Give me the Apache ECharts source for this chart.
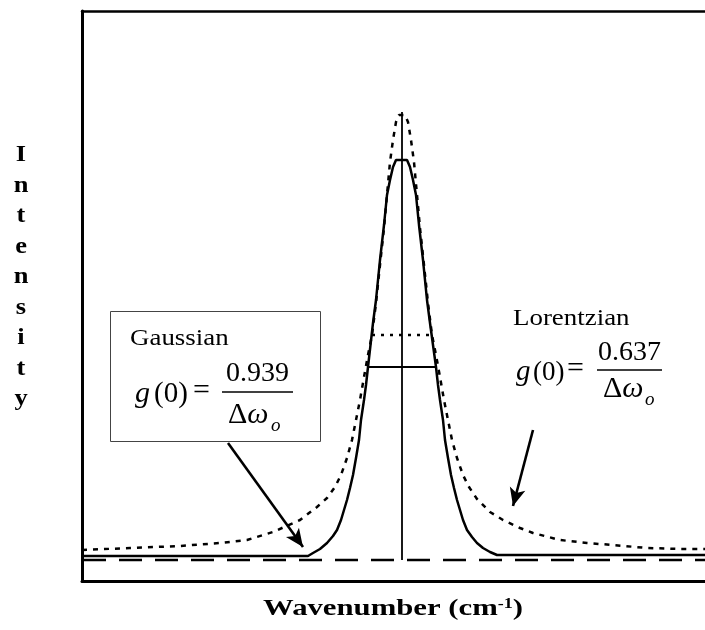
<!DOCTYPE html>
<html><head><meta charset="utf-8">
<script src="https://cdn.jsdelivr.net/npm/echarts@6/dist/echarts.min.js"></script>
<style>html,body{margin:0;padding:0;background:#fff}#c{width:705px;height:630px}</style>
</head><body><div id="c"></div>
<script>
// ---- data (x: relative wavenumber, y: intensity, arbitrary units) ----
const gaussian = [
  [-32.0,0.04],[-9.4,0.04],[-8.9,0.07],[-8.2,0.11],[-7.5,0.17],[-6.9,0.24],[-6.5,0.30],
  [-6.1,0.40],[-5.8,0.50],[-5.5,0.60],[-5.2,0.72],[-4.9,0.85],[-4.6,1.02],[-4.3,1.20],
  [-4.1,1.40],[-3.8,1.60],[-3.6,1.75],[-3.4,1.93],[-2.9,2.37],[-2.6,2.60],[-2.2,3.00],
  [-1.8,3.35],[-1.5,3.65],[-1.2,3.80],[-0.9,3.93],[-0.6,4.00],[0.5,4.00],[0.8,3.93],
  [1.1,3.80],[1.4,3.65],[1.7,3.35],[2.1,3.00],[2.5,2.60],[2.8,2.37],[3.4,1.93],[3.6,1.75],
  [3.8,1.60],[4.1,1.40],[4.3,1.20],[4.6,1.02],[4.9,0.85],[5.2,0.72],[5.5,0.60],[5.8,0.50],
  [6.1,0.40],[6.5,0.30],[7.0,0.23],[7.5,0.17],[8.1,0.12],[8.8,0.08],[9.5,0.05],[30.3,0.05]
];
const lorentzian = [
  [-32.0,0.10],[-27.2,0.12],[-22.2,0.14],[-18.2,0.17],[-15.5,0.20],[-12.9,0.28],[-10.2,0.40],
  [-8.5,0.53],[-7.5,0.62],[-6.7,0.73],[-6.1,0.85],[-5.5,1.02],[-5.0,1.20],[-4.6,1.40],
  [-4.2,1.60],[-3.8,1.83],[-3.4,2.05],[-3.0,2.25],[-2.6,2.57],[-2.2,2.95],[-1.8,3.32],
  [-1.5,3.65],[-1.2,3.98],[-0.9,4.20],[-0.6,4.38],[-0.3,4.45],[0.3,4.45],[0.6,4.38],
  [0.9,4.20],[1.2,3.98],[1.5,3.65],[1.8,3.32],[2.2,2.95],[2.6,2.57],[3.0,2.25],[3.4,2.05],
  [3.8,1.83],[4.2,1.60],[4.6,1.40],[5.0,1.20],[5.5,1.02],[6.1,0.85],[6.7,0.73],[7.5,0.61],
  [8.8,0.48],[10.1,0.40],[11.8,0.32],[13.1,0.27],[15.8,0.20],[18.5,0.17],[21.1,0.15],
  [24.5,0.12],[27.8,0.11],[30.3,0.11]
];
const baseline = [[-31.9,0],[30.3,0]];
const centerLine = [[0,0],[0,4.48]];
const gaussHalf = [[-3.4,1.93],[3.4,1.93]];
const lorentzHalf = [[-3.0,2.25],[3.0,2.25]];
const gaussArrow = [[-17.4,1.17],[-9.9,0.13]];
const lorentzArrow = [[13.1,1.30],[11.1,0.54]];
const xRange = [-32.0, 30.3];
const yRange = [-0.21, 5.49];
const yTitleLetters = ['I','n','t','e','n','s','i','t','y'];
const xTitle = 'Wavenumber (cm';
const xTitleSup = '-1';
const gaussName = 'Gaussian';
const lorentzName = 'Lorentzian';
const gaussNum = '0.939';
const lorentzNum = '0.637';

const SERIF = '"Liberation Serif", "Times New Roman", serif';
function txt(x, base, text, size, o) {
  o = o || {};
  const weight = o.bold ? 'bold ' : '';
  const style = o.italic ? 'italic ' : '';
  return {
    type: 'text', x: x, y: base - 0.34 * size, scaleX: o.sx || 1,
    style: {
      text: text, font: style + weight + size + 'px ' + SERIF, fill: '#000',
      align: o.align || 'left', verticalAlign: 'middle',
      textAlign: o.align || 'left', textVerticalAlign: 'middle'
    }
  };
}
function hline(x1, x2, y, w) {
  return { type: 'line', shape: { x1: x1, y1: y, x2: x2, y2: y }, style: { stroke: '#000', lineWidth: w } };
}
function delta(x, base, size) {
  return { type: 'text', x: x, y: base - 0.34 * size,
    style: { text: '{n|Δ}{i|ω}', align: 'left', verticalAlign: 'middle', textAlign: 'left', textVerticalAlign: 'middle',
      rich: { n: { font: size + 'px ' + SERIF, fill: '#000' }, i: { font: 'italic ' + size + 'px ' + SERIF, fill: '#000' } } } };
}

const chart = echarts.init(document.getElementById('c'), null, { renderer: 'canvas' });
const axisCommon = { axisTick: { show: false }, axisLabel: { show: false }, splitLine: { show: false } };
chart.setOption({
  animation: false,
  backgroundColor: '#fff',
  grid: { left: 82, right: 0, top: 11, bottom: 49 },
  xAxis: [
    Object.assign({ type: 'value', min: xRange[0], max: xRange[1], position: 'bottom',
      axisLine: { show: true, onZero: false, lineStyle: { color: '#000', width: 3 } } }, axisCommon),
    Object.assign({ type: 'value', min: xRange[0], max: xRange[1], position: 'top',
      axisLine: { show: true, onZero: false, lineStyle: { color: '#000', width: 2.5 } } }, axisCommon)
  ],
  yAxis: Object.assign({ type: 'value', min: yRange[0], max: yRange[1],
    axisLine: { show: true, onZero: false, lineStyle: { color: '#000', width: 3 } } }, axisCommon),
  series: [
    { type: 'line', data: baseline, symbol: 'none', silent: true,
      lineStyle: { color: '#000', width: 2.5, type: [23, 13] },
      markLine: {
        silent: true, symbol: ['none', 'arrow'], symbolSize: [12, 18],
        label: { show: false },
        lineStyle: { color: '#000', width: 2.6, type: 'solid' },
        emphasis: { disabled: true },
        data: [
          [{ coord: gaussArrow[0] }, { coord: gaussArrow[1] }],
          [{ coord: lorentzArrow[0] }, { coord: lorentzArrow[1] }]
        ]
      } },
    { type: 'line', data: lorentzian, symbol: 'none', silent: true,
      lineStyle: { color: '#000', width: 2.5, type: [5, 6] } },
    { type: 'line', data: gaussian, symbol: 'none', silent: true,
      lineStyle: { color: '#000', width: 2.5 } },
    { type: 'line', data: centerLine, symbol: 'none', silent: true,
      lineStyle: { color: '#000', width: 1.8 } },
    { type: 'line', data: gaussHalf, symbol: 'none', silent: true,
      lineStyle: { color: '#000', width: 2 } },
    { type: 'line', data: lorentzHalf, symbol: 'none', silent: true,
      lineStyle: { color: '#000', width: 2.5, type: [3, 6] } }
  ],
  graphic: [
    { type: 'rect', shape: { x: 110.5, y: 311.5, width: 210, height: 130 },
      style: { fill: 'none', stroke: '#444', lineWidth: 1 } },
    // y title
    { type: 'text', x: 21, y: 140, scaleX: 1.15,
      style: { text: yTitleLetters.join('\n'), font: 'bold 23px ' + SERIF, fill: '#000',
        lineHeight: 30.5, align: 'center', verticalAlign: 'top', textAlign: 'center', textVerticalAlign: 'top' } },
    // x title
    { type: 'text', x: 393, y: 609, scaleX: 1.28,
      style: { text: '{a|' + xTitle + '}{s|' + xTitleSup + '}{a|)}', fill: '#000',
        align: 'center', verticalAlign: 'middle', textAlign: 'center', textVerticalAlign: 'middle',
        rich: { a: { font: 'bold 24px ' + SERIF, fill: '#000' },
                s: { font: 'bold 14px ' + SERIF, fill: '#000', verticalAlign: 'top' } } } },
    // Gaussian
    txt(130, 347, gaussName, 23, { sx: 1.17 }),
    txt(135, 404, 'g', 30, { italic: true }),
    txt(154, 404, '(0)', 29),
    txt(193, 401, '=', 30),
    txt(257.5, 383, gaussNum, 28, { align: 'center' }),
    hline(222, 293, 392, 1.6),
    delta(228, 425, 30),
    txt(271, 432, 'o', 19, { italic: true }),
    // Lorentzian
    txt(513, 327, lorentzName, 23, { sx: 1.17 }),
    txt(516, 382, 'g', 29, { italic: true }),
    txt(533, 382, '(0)', 27),
    txt(567, 379, '=', 30),
    txt(629.5, 362, lorentzNum, 28, { align: 'center' }),
    hline(597, 662, 370, 1.6),
    delta(603, 399, 30),
    txt(645, 406, 'o', 19, { italic: true })
  ]
});
</script></body></html>
